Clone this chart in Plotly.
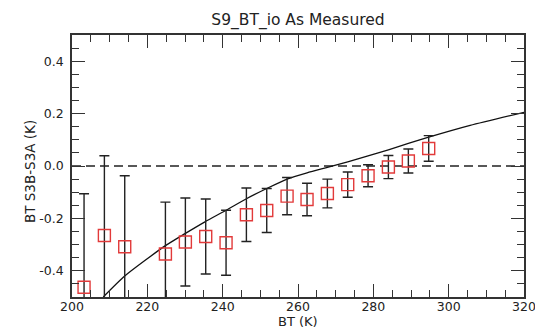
import plotly.graph_objects as go

# Binned BT differences (S3B - S3A) with 1-sigma spread per bin
bt_bins = [203.2, 208.6, 214.0, 224.8, 230.1, 235.5, 240.9, 246.3, 251.7,
           257.1, 262.4, 267.8, 273.2, 278.6, 284.0, 289.3, 294.7]
bt_diff = [-0.463, -0.265, -0.308, -0.336, -0.290, -0.269, -0.293, -0.186, -0.170,
           -0.115, -0.128, -0.105, -0.071, -0.037, -0.004, 0.019, 0.067]
bt_err = [0.357, 0.304, 0.271, 0.198, 0.168, 0.143, 0.124, 0.102, 0.084,
          0.071, 0.062, 0.055, 0.048, 0.042, 0.044, 0.046, 0.049]

# Expected difference curve
curve_bt = [208.3, 214.0, 224.7, 230.0, 235.3, 240.9, 246.3, 251.7, 257.1,
            262.4, 267.8, 273.2, 278.6, 284.0, 289.3, 294.7, 305.7, 320.0]
curve_diff = [-0.500, -0.420, -0.305, -0.258, -0.213, -0.169, -0.125, -0.086, -0.050,
              -0.026, -0.005, 0.016, 0.039, 0.062, 0.086, 0.110, 0.155, 0.205]

# Reference zero line
zero_bt = [200, 320]
zero_val = [0.0, 0.0]

y_tickvals = [-0.4, -0.2, 0.0, 0.2, 0.4]
y_ticktext = ["-0.4", "-0.2", "0.0", "0.2", "0.4"]
x_tickvals = [200, 220, 240, 260, 280, 300, 320]

FONT = "DejaVu Sans, sans-serif"
TEXT_COL = "#222222"
AXIS_COL = "#333333"

fig = go.Figure()

fig.add_trace(go.Scatter(
    x=zero_bt, y=zero_val, mode="lines",
    line=dict(color="#222222", width=1.3, dash="9px,5px"),
    hoverinfo="skip", showlegend=False,
))

fig.add_trace(go.Scatter(
    x=curve_bt, y=curve_diff, mode="lines",
    line=dict(color="#111111", width=1.3, shape="spline", smoothing=0.6),
    showlegend=False,
))

fig.add_trace(go.Scatter(
    x=bt_bins, y=bt_diff, mode="markers",
    marker=dict(symbol="square-open", size=12, color="#e23a3a",
                line=dict(width=1.4, color="#e23a3a")),
    error_y=dict(type="data", array=bt_err, visible=True,
                 color="#222222", thickness=1.4, width=5),
    showlegend=False,
))

fig.update_layout(
    width=535, height=328,
    margin=dict(l=72, r=11, t=35, b=31, autoexpand=False),
    paper_bgcolor="white", plot_bgcolor="white",
    font=dict(family=FONT, size=13, color=TEXT_COL),
    title=dict(text="S9_BT_io As Measured", x=298 / 535, xanchor="center",
               y=1 - 19.5 / 328, yanchor="middle",
               font=dict(family=FONT, size=15.5, color=TEXT_COL)),
    annotations=[
        dict(text="BT (K)", xref="paper", yref="paper", x=0.5, y=-24.5 / 262,
             xanchor="center", yanchor="middle", showarrow=False,
             font=dict(family=FONT, size=13, color=TEXT_COL)),
        dict(text="BT S3B-S3A (K)", xref="paper", yref="paper",
             x=(30 - 72) / 452, y=(297 - 172) / 262, textangle=-90,
             xanchor="center", yanchor="middle", showarrow=False,
             font=dict(family=FONT, size=13.5, color=TEXT_COL)),
    ],
)

fig.update_xaxes(
    range=[200, 320], tickvals=x_tickvals, automargin=False,
    ticks="inside", ticklen=13, tickwidth=1.3, tickcolor=AXIS_COL,
    minor=dict(ticks="inside", ticklen=7, dtick=5, tickwidth=1.3, tickcolor=AXIS_COL),
    showline=True, linecolor=AXIS_COL, linewidth=1.5, mirror="ticks",
    showgrid=False, zeroline=False, ticklabeloverflow="allow",
    ticklabelstandoff=-3,
    tickfont=dict(family=FONT, size=12.5, color=TEXT_COL),
)

fig.update_yaxes(
    range=[-0.5, 0.5], tickvals=y_tickvals, ticktext=y_ticktext, automargin=False,
    ticks="inside", ticklen=13, tickwidth=1.3, tickcolor=AXIS_COL,
    minor=dict(ticks="inside", ticklen=7, dtick=0.05, tick0=0, tickwidth=1.3, tickcolor=AXIS_COL),
    showline=True, linecolor=AXIS_COL, linewidth=1.5, mirror="ticks",
    showgrid=False, zeroline=False, ticklabeloverflow="allow",
    ticklabelstandoff=4,
    tickfont=dict(family=FONT, size=12.5, color=TEXT_COL),
)

fig.write_html("out.html")
